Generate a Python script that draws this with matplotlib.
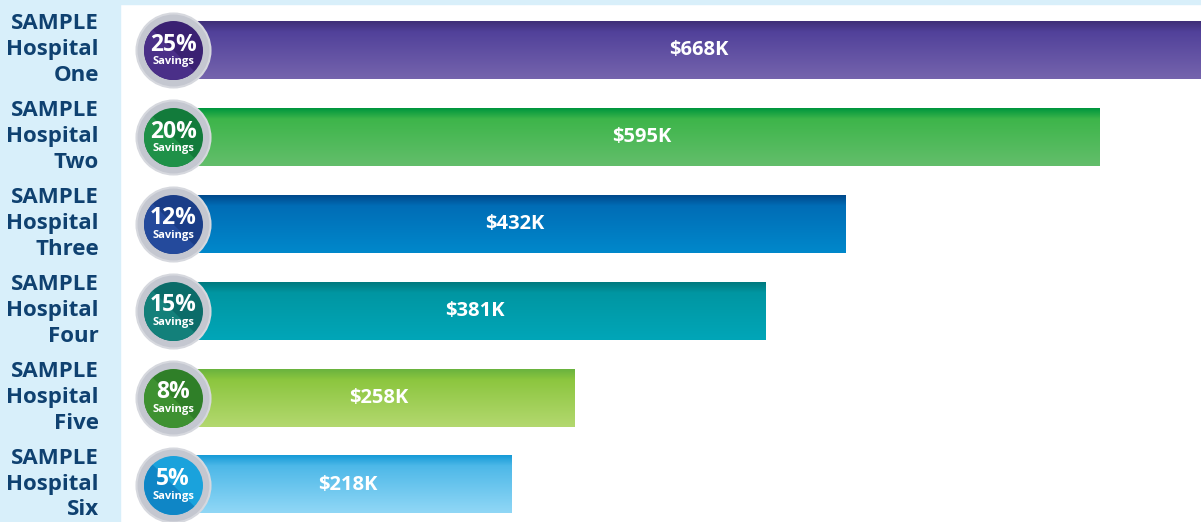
import numpy as np
import matplotlib.pyplot as plt
from matplotlib.colors import LinearSegmentedColormap
from matplotlib.patches import Rectangle
from matplotlib.markers import MarkerStyle
from matplotlib.path import Path
import matplotlib.transforms as mtransforms

plt.rcParams['font.family'] = ['Open Sans', 'DejaVu Sans']

hospitals = ["SAMPLE\nHospital\nOne", "SAMPLE\nHospital\nTwo", "SAMPLE\nHospital\nThree",
             "SAMPLE\nHospital\nFour", "SAMPLE\nHospital\nFive", "SAMPLE\nHospital\nSix"]
savings_k = [668, 595, 432, 381, 258, 218]
savings_pct = [25, 20, 12, 15, 8, 5]

# bar gradients: top, upper, bottom
bar_grads = [
    ["#3f2f78", "#51419a", "#7564ad"],
    ["#00963e", "#3db54a", "#63be6b"],
    ["#004a8c", "#006db6", "#0088cb"],
    ["#007a7f", "#0096a2", "#00a6b8"],
    ["#6ab33e", "#8cc63f", "#b3d86f"],
    ["#179bd7", "#4db8e8", "#90d7f6"],
]
# badge colours: main, half
badge_cols = [
    ("#3a2172", "#4a2f88"),
    ("#127b3b", "#1f9148"),
    ("#1a3d88", "#244a9c"),
    ("#0b6c69", "#13807a"),
    ("#2f7f28", "#3e9131"),
    ("#1aa2dc", "#0f86c6"),
]

panel = "#d8effa"
label_col = "#0f4170"

fig = plt.figure(figsize=(12.01, 5.22), dpi=100)
fig.patch.set_facecolor("white")
fig.add_artist(Rectangle((0, 0), 120 / 1201, 1, transform=fig.transFigure,
                         color=panel, zorder=0))
fig.add_artist(Rectangle((0, 1 - 4 / 522), 1, 4 / 522, transform=fig.transFigure,
                         color=panel, zorder=0))

ax = fig.add_axes([0, 0, 1, 1])
ax.set_facecolor("none")
ax.set_xlim(-110.1, 660.3)
ax.set_ylim(5.426, -0.581)
ax.axis("off")

h = 0.656
grad = np.linspace(0, 1, 64).reshape(-1, 1)
half = MarkerStyle(Path.wedge(135, 315))
ring_s = (2 * 37 * 0.72) ** 2
inner_s = (2 * 29.5 * 0.72) ** 2

label_tr = mtransforms.blended_transform_factory(fig.transFigure, ax.transData)

for i, (name, v, p) in enumerate(zip(hospitals, savings_k, savings_pct)):
    cmap = LinearSegmentedColormap.from_list(
        "g%d" % i, [(0, bar_grads[i][0]), (0.18, bar_grads[i][1]), (1, bar_grads[i][2])])
    ax.imshow(grad, cmap=cmap, extent=[0, v, i + h / 2, i - h / 2],
              aspect="auto", interpolation="bilinear", zorder=2)
    ax.text(v / 2 + 4, i, "$%dK" % v, color="white", fontsize=14.5, fontweight="bold",
            ha="center", va="center", zorder=3)

    # badge
    ax.scatter([1], [i], s=ring_s, color="#c4c7d0", edgecolors="#d6d8de",
               linewidths=1.5, zorder=4)
    ax.scatter([1], [i], s=inner_s, color=badge_cols[i][0], linewidths=0, zorder=5)
    ax.scatter([1], [i], s=inner_s, marker=half, color=badge_cols[i][1],
               linewidths=0, zorder=5)
    ax.annotate("%d%%" % p, (1, i), xytext=(0, 4.2), textcoords="offset points",
                color="white", fontsize=16.5, fontweight="bold",
                ha="center", va="center", zorder=6)
    ax.annotate("Savings", (1, i), xytext=(0, -8.0), textcoords="offset points",
                color="white", fontsize=8, fontweight="bold",
                ha="center", va="center", zorder=6)

    ax.text(99 / 1201, i - 0.01, name, transform=label_tr, color=label_col,
            fontsize=16, fontweight="bold", ha="right", va="center",
            linespacing=1.3, zorder=3)

fig.savefig("out.png", dpi=100)
